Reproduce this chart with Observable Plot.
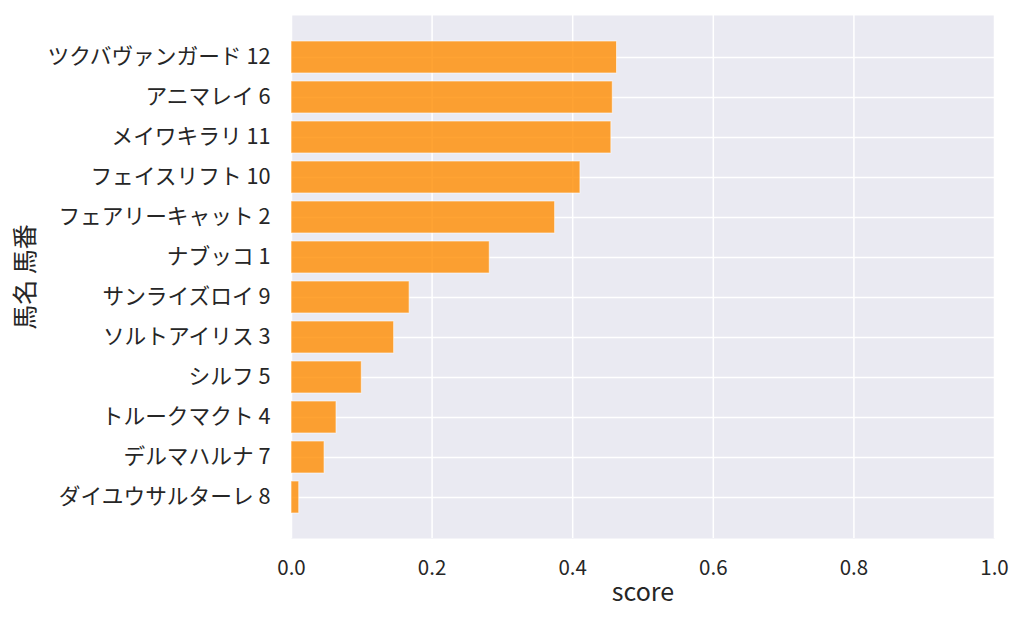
<!DOCTYPE html>
<html><head><meta charset="utf-8">
<script src="https://cdn.jsdelivr.net/npm/d3@7"></script>
<script src="https://cdn.jsdelivr.net/npm/@observablehq/plot@0.6"></script>
<style>body{margin:0;background:#fff}</style>
</head><body><div id="chart"></div>
<script>
const names = [
  "ツクバヴァンガード 12",
  "アニマレイ 6",
  "メイワキラリ 11",
  "フェイスリフト 10",
  "フェアリーキャット 2",
  "ナブッコ 1",
  "サンライズロイ 9",
  "ソルトアイリス 3",
  "シルフ 5",
  "トルークマクト 4",
  "デルマハルナ 7",
  "ダイユウサルターレ 8"
];
const scores = [0.463, 0.457, 0.455, 0.411, 0.375, 0.282, 0.168, 0.146, 0.100, 0.064, 0.047, 0.011];
const xTicks = [0, 0.2, 0.4, 0.6, 0.8, 1.0];
const xLabel = "score";
const yLabel = "馬名 馬番";

const data = names.map((n, i) => ({name: n, score: scores[i]}));
const fmt = d3.format(".1f");

const chart = Plot.plot({
  width: 1024, height: 627,
  marginLeft: 291, marginRight: 30, marginTop: 15, marginBottom: 89,
  style: {fontFamily: "'Noto Sans CJK JP', 'Noto Sans', sans-serif", fontSize: "20.5px", color: "#262626", background: "#fff"},
  x: {domain: [0, 1], ticks: xTicks, tickFormat: fmt, label: null},
  y: {domain: names, paddingInner: 0.2, paddingOuter: 0.55, label: null},
  marks: [
    Plot.frame({fill: "#EAEAF2", stroke: null}),
    Plot.gridX(xTicks, {stroke: "white", strokeOpacity: 1, strokeWidth: 1.5}),
    Plot.gridY(names, {stroke: "white", strokeOpacity: 1, strokeWidth: 1.5}),
    Plot.barX(data, {x: "score", y: "name", fill: "#ff8c00", fillOpacity: 0.8, stroke: "white", strokeOpacity: 0.6, strokeWidth: 1}),
    Plot.axisX(xTicks, {tickSize: 0, tickPadding: 22, tickFormat: fmt, label: null, fill: "#262626", fontSize: 20.5}),
    Plot.axisY({tickSize: 0, tickPadding: 21, label: null, fill: "#262626", fontSize: 21.7}),
    Plot.text([xLabel], {frameAnchor: "bottom", dy: 62, fontSize: 25, fill: "#262626", text: d => d}),
    Plot.text([yLabel], {frameAnchor: "left", dx: -266, rotate: -90, textAnchor: "middle", fontSize: 25, fill: "#262626", text: d => d})
  ]
});
document.getElementById("chart").append(chart);
</script>
</body></html>
